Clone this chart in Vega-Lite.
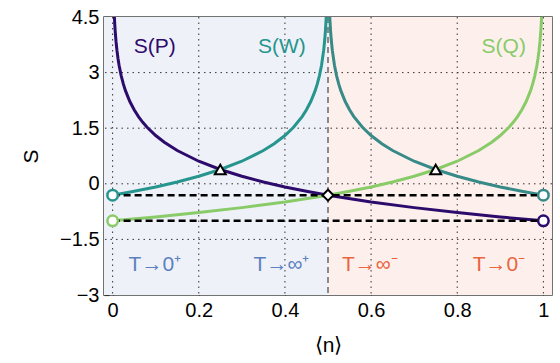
{
  "$schema": "https://vega.github.io/schema/vega-lite/v6.json",
  "width": 448,
  "height": 278,
  "autosize": "none",
  "padding": {"left": 104, "top": 17, "right": 8, "bottom": 68},
  "background": "white",
  "config": {
    "font": "Liberation Sans",
    "view": {"stroke": "#444444", "strokeWidth": 1.5},
    "axis": {
      "labelFont": "Liberation Sans", "titleFont": "Liberation Sans",
      "labelFontSize": 20, "titleFontSize": 21, "titleFontWeight": "normal",
      "labelColor": "black", "titleColor": "black",
      "domain": false, "tickColor": "#333333", "tickSize": -5, "tickWidth": 1.2, "grid": false
    }
  },
  "encoding": {
    "x": {"type": "quantitative", "scale": {"domain": [-0.02, 1.02], "nice": false, "zero": false},
          "axis": {"values": [0, 0.2, 0.4, 0.6, 0.8, 1], "format": ".3~g", "title": "⟨n⟩", "titlePadding": 14, "labelPadding": 10}},
    "y": {"type": "quantitative", "scale": {"domain": [-3, 4.5], "nice": false, "zero": false},
          "axis": {"values": [-3, -1.5, 0, 1.5, 3, 4.5], "format": ".3~g", "title": "S", "titlePadding": 18, "labelPadding": 10}}
  },
  "datasets": {
    "bg": [
      {"x0": -0.02, "x1": 0.5, "y0": -3, "y1": 4.5, "key": "bgL"},
      {"x0": 0.5, "x1": 1.02, "y0": -3, "y1": 4.5, "key": "bgR"}
    ],
    "curves": [
      {"key": "P", "n": 0.0041, "S": 4.5},
      {"key": "P", "n": 0.005, "S": 4.298},
      {"key": "P", "n": 0.006, "S": 4.116},
      {"key": "P", "n": 0.008, "S": 3.828},
      {"key": "P", "n": 0.01, "S": 3.605},
      {"key": "P", "n": 0.0125, "S": 3.382},
      {"key": "P", "n": 0.015, "S": 3.2},
      {"key": "P", "n": 0.02, "S": 2.912},
      {"key": "P", "n": 0.025, "S": 2.689},
      {"key": "P", "n": 0.03, "S": 2.507},
      {"key": "P", "n": 0.04, "S": 2.219},
      {"key": "P", "n": 0.05, "S": 1.996},
      {"key": "P", "n": 0.06, "S": 1.813},
      {"key": "P", "n": 0.07, "S": 1.659},
      {"key": "P", "n": 0.08, "S": 1.526},
      {"key": "P", "n": 0.1, "S": 1.303},
      {"key": "P", "n": 0.12, "S": 1.12},
      {"key": "P", "n": 0.15, "S": 0.897},
      {"key": "P", "n": 0.2, "S": 0.609},
      {"key": "P", "n": 0.25, "S": 0.386},
      {"key": "P", "n": 0.3, "S": 0.204},
      {"key": "P", "n": 0.35, "S": 0.05},
      {"key": "P", "n": 0.4, "S": -0.084},
      {"key": "P", "n": 0.45, "S": -0.201},
      {"key": "P", "n": 0.5, "S": -0.307},
      {"key": "P", "n": 0.6, "S": -0.489},
      {"key": "P", "n": 0.7, "S": -0.643},
      {"key": "P", "n": 0.8, "S": -0.777},
      {"key": "P", "n": 0.9, "S": -0.895},
      {"key": "P", "n": 1.0, "S": -1.0},

      {"key": "Q", "n": 0.0, "S": -1.0},
      {"key": "Q", "n": 0.1, "S": -0.895},
      {"key": "Q", "n": 0.2, "S": -0.777},
      {"key": "Q", "n": 0.3, "S": -0.643},
      {"key": "Q", "n": 0.4, "S": -0.489},
      {"key": "Q", "n": 0.5, "S": -0.307},
      {"key": "Q", "n": 0.55, "S": -0.201},
      {"key": "Q", "n": 0.6, "S": -0.084},
      {"key": "Q", "n": 0.65, "S": 0.05},
      {"key": "Q", "n": 0.7, "S": 0.204},
      {"key": "Q", "n": 0.75, "S": 0.386},
      {"key": "Q", "n": 0.8, "S": 0.609},
      {"key": "Q", "n": 0.85, "S": 0.897},
      {"key": "Q", "n": 0.88, "S": 1.12},
      {"key": "Q", "n": 0.9, "S": 1.303},
      {"key": "Q", "n": 0.92, "S": 1.526},
      {"key": "Q", "n": 0.93, "S": 1.659},
      {"key": "Q", "n": 0.94, "S": 1.813},
      {"key": "Q", "n": 0.95, "S": 1.996},
      {"key": "Q", "n": 0.96, "S": 2.219},
      {"key": "Q", "n": 0.97, "S": 2.507},
      {"key": "Q", "n": 0.975, "S": 2.689},
      {"key": "Q", "n": 0.98, "S": 2.912},
      {"key": "Q", "n": 0.985, "S": 3.2},
      {"key": "Q", "n": 0.9875, "S": 3.382},
      {"key": "Q", "n": 0.99, "S": 3.605},
      {"key": "Q", "n": 0.992, "S": 3.828},
      {"key": "Q", "n": 0.994, "S": 4.116},
      {"key": "Q", "n": 0.995, "S": 4.298},
      {"key": "Q", "n": 0.9959, "S": 4.5},

      {"key": "W", "n": 0.0, "S": -0.307},
      {"key": "W", "n": 0.05, "S": -0.202},
      {"key": "W", "n": 0.1, "S": -0.084},
      {"key": "W", "n": 0.15, "S": 0.05},
      {"key": "W", "n": 0.2, "S": 0.204},
      {"key": "W", "n": 0.25, "S": 0.386},
      {"key": "W", "n": 0.3, "S": 0.609},
      {"key": "W", "n": 0.35, "S": 0.897},
      {"key": "W", "n": 0.375, "S": 1.079},
      {"key": "W", "n": 0.4, "S": 1.303},
      {"key": "W", "n": 0.42, "S": 1.526},
      {"key": "W", "n": 0.44, "S": 1.813},
      {"key": "W", "n": 0.45, "S": 1.996},
      {"key": "W", "n": 0.46, "S": 2.219},
      {"key": "W", "n": 0.47, "S": 2.507},
      {"key": "W", "n": 0.475, "S": 2.689},
      {"key": "W", "n": 0.48, "S": 2.912},
      {"key": "W", "n": 0.485, "S": 3.2},
      {"key": "W", "n": 0.49, "S": 3.605},
      {"key": "W", "n": 0.4925, "S": 3.893},
      {"key": "W", "n": 0.494, "S": 4.116},
      {"key": "W", "n": 0.4959, "S": 4.5},

      {"key": "Wr", "n": 0.5041, "S": 4.5},
      {"key": "Wr", "n": 0.506, "S": 4.116},
      {"key": "Wr", "n": 0.5075, "S": 3.893},
      {"key": "Wr", "n": 0.51, "S": 3.605},
      {"key": "Wr", "n": 0.515, "S": 3.2},
      {"key": "Wr", "n": 0.52, "S": 2.912},
      {"key": "Wr", "n": 0.525, "S": 2.689},
      {"key": "Wr", "n": 0.53, "S": 2.507},
      {"key": "Wr", "n": 0.54, "S": 2.219},
      {"key": "Wr", "n": 0.55, "S": 1.996},
      {"key": "Wr", "n": 0.56, "S": 1.813},
      {"key": "Wr", "n": 0.58, "S": 1.526},
      {"key": "Wr", "n": 0.6, "S": 1.303},
      {"key": "Wr", "n": 0.625, "S": 1.079},
      {"key": "Wr", "n": 0.65, "S": 0.897},
      {"key": "Wr", "n": 0.7, "S": 0.609},
      {"key": "Wr", "n": 0.75, "S": 0.386},
      {"key": "Wr", "n": 0.8, "S": 0.204},
      {"key": "Wr", "n": 0.85, "S": 0.05},
      {"key": "Wr", "n": 0.9, "S": -0.084},
      {"key": "Wr", "n": 0.95, "S": -0.202},
      {"key": "Wr", "n": 1.0, "S": -0.307}
    ],
    "hlines": [
      {"n0": 0, "n1": 1, "S": -0.307},
      {"n0": 0, "n1": 1, "S": -1.0}
    ],
    "vline": [{"n": 0.5}],
    "vgrid": [{"n": 0}, {"n": 0.2}, {"n": 0.4}, {"n": 0.6}, {"n": 0.8}, {"n": 1}],
    "hgrid": [{"S": -1.5}, {"S": 0}, {"S": 1.5}, {"S": 3}],
    "circles": [
      {"key": "W", "n": 0, "S": -0.307},
      {"key": "Q", "n": 0, "S": -1.0},
      {"key": "Wr", "n": 1, "S": -0.307},
      {"key": "P", "n": 1, "S": -1.0}
    ],
    "tris": [
      {"n": 0.25, "S": 0.386},
      {"n": 0.75, "S": 0.386}
    ],
    "diam": [{"n": 0.5, "S": -0.307}],
    "labels": [
      {"key": "P", "n": 0.098, "S": 3.69, "text": "S(P)"},
      {"key": "W", "n": 0.393, "S": 3.69, "text": "S(W)"},
      {"key": "Q", "n": 0.908, "S": 3.69, "text": "S(Q)"},
      {"key": "pos", "n": 0.098, "S": -2.19, "text": "T→0⁺"},
      {"key": "pos", "n": 0.392, "S": -2.19, "text": "T→∞⁺"},
      {"key": "neg", "n": 0.597, "S": -2.19, "text": "T→∞⁻"},
      {"key": "neg", "n": 0.897, "S": -2.19, "text": "T→0⁻"}
    ]
  },
  "layer": [
    {
      "data": {"name": "bg"},
      "mark": {"type": "rect", "opacity": 1},
      "encoding": {
        "x": {"field": "x0"},
        "x2": {"field": "x1"},
        "y": {"field": "y0"},
        "y2": {"field": "y1"},
        "color": {"field": "key", "type": "nominal", "legend": null,
                  "scale": {"domain": ["P", "W", "Wr", "Q", "pos", "neg", "bgL", "bgR"],
                            "range": ["#2c0b6c", "#26958d", "#388a89", "#88cb68", "#5b80c0", "#ea6440", "#eff1f8", "#fdf0ec"]}}
      }
    },
    {
      "data": {"name": "vgrid"},
      "mark": {"type": "rule", "color": "#333333", "strokeDash": [1.5, 4], "strokeWidth": 1},
      "encoding": {"x": {"field": "n"}, "y": null}
    },
    {
      "data": {"name": "hgrid"},
      "mark": {"type": "rule", "color": "#333333", "strokeDash": [1.5, 4], "strokeWidth": 1},
      "encoding": {"y": {"field": "S"}, "x": null}
    },
    {
      "data": {"name": "vline"},
      "mark": {"type": "rule", "color": "#222222", "strokeDash": [6, 4], "strokeWidth": 1},
      "encoding": {"x": {"field": "n"}, "y": null}
    },
    {
      "data": {"name": "curves"},
      "mark": {"type": "line", "strokeWidth": 3, "clip": true},
      "encoding": {
        "x": {"field": "n"},
        "y": {"field": "S"},
        "color": {"field": "key", "type": "nominal"},
        "order": {"field": "n", "type": "quantitative"}
      }
    },
    {
      "data": {"name": "hlines"},
      "mark": {"type": "rule", "color": "black", "strokeDash": [7, 4], "strokeWidth": 2.5},
      "encoding": {
        "x": {"field": "n0"},
        "x2": {"field": "n1"},
        "y": {"field": "S"}
      }
    },
    {
      "data": {"name": "circles"},
      "mark": {"type": "point", "shape": "circle", "filled": false, "fill": "white", "fillOpacity": 1, "size": 110, "strokeWidth": 2.5, "opacity": 1},
      "encoding": {
        "x": {"field": "n"},
        "y": {"field": "S"},
        "color": {"field": "key", "type": "nominal"}
      }
    },
    {
      "data": {"name": "tris"},
      "mark": {"type": "point", "shape": "triangle-up", "filled": false, "fill": "white", "fillOpacity": 1, "stroke": "black", "size": 120, "strokeWidth": 2, "opacity": 1},
      "encoding": {
        "x": {"field": "n"},
        "y": {"field": "S"}
      }
    },
    {
      "data": {"name": "diam"},
      "mark": {"type": "point", "shape": "diamond", "filled": false, "fill": "white", "fillOpacity": 1, "stroke": "black", "size": 120, "strokeWidth": 2, "opacity": 1},
      "encoding": {
        "x": {"field": "n"},
        "y": {"field": "S"}
      }
    },
    {
      "data": {"name": "labels"},
      "mark": {"type": "text", "fontSize": 21, "font": "Liberation Sans", "align": "center", "baseline": "middle"},
      "encoding": {
        "x": {"field": "n"},
        "y": {"field": "S"},
        "text": {"field": "text"},
        "color": {"field": "key", "type": "nominal"}
      }
    }
  ]
}
